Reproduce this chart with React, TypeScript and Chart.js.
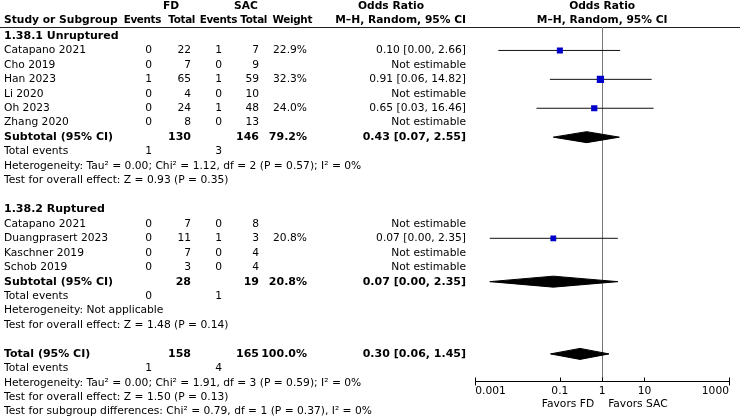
import React, { useEffect, useRef } from "react";
import { Chart, registerables } from "chart.js";
Chart.register(...registerables);

// ---- Data ----
const studies1 = ["Catapano 2021", "Cho 2019", "Han 2023", "Li 2020", "Oh 2023", "Zhang 2020"];
const fdEvents1 = [0, 0, 1, 0, 0, 0];
const fdTotal1 = [22, 7, 65, 4, 24, 8];
const sacEvents1 = [1, 0, 1, 0, 1, 0];
const sacTotal1 = [7, 9, 59, 10, 48, 13];
const weight1: (number | null)[] = [22.9, null, 32.3, null, 24.0, null];
const or1: (number | null)[] = [0.1, null, 0.91, null, 0.65, null];
const lo1: (number | null)[] = [0.0035, null, 0.058, null, 0.028, null];
const hi1: (number | null)[] = [2.66, null, 14.82, null, 16.46, null];

const studies2 = ["Catapano 2021", "Duangprasert 2023", "Kaschner 2019", "Schob 2019"];
const fdEvents2 = [0, 0, 0, 0];
const fdTotal2 = [7, 11, 7, 3];
const sacEvents2 = [0, 1, 0, 0];
const sacTotal2 = [8, 3, 4, 4];
const weight2: (number | null)[] = [null, 20.8, null, null];
const or2: (number | null)[] = [null, 0.07, null, null];
const lo2: (number | null)[] = [null, 0.0022, null, null];
const hi2: (number | null)[] = [null, 2.35, null, null];

const sub1 = { fdTotal: 130, sacTotal: 146, weight: 79.2, or: 0.43, lo: 0.07, hi: 2.55, fdEv: 1, sacEv: 3 };
const sub2 = { fdTotal: 28, sacTotal: 19, weight: 20.8, or: 0.07, lo: 0.0022, hi: 2.35, fdEv: 0, sacEv: 1 };
const total = { fdTotal: 158, sacTotal: 165, weight: 100.0, or: 0.3, lo: 0.06, hi: 1.45, fdEv: 1, sacEv: 4 };

const het1 = "Heterogeneity: Tau² = 0.00; Chi² = 1.12, df = 2 (P = 0.57); I² = 0%";
const eff1 = "Test for overall effect: Z = 0.93 (P = 0.35)";
const het2 = "Heterogeneity: Not applicable";
const eff2 = "Test for overall effect: Z = 1.48 (P = 0.14)";
const hetT = "Heterogeneity: Tau² = 0.00; Chi² = 1.91, df = 3 (P = 0.59); I² = 0%";
const effT = "Test for overall effect: Z = 1.50 (P = 0.13)";
const subDiff = "Test for subgroup differences: Chi² = 0.79, df = 1 (P = 0.37), I² = 0%";

const axisTicks = [0.001, 0.1, 1, 10, 1000];
const axisTickLabels = ["0.001", "0.1", "1", "10", "1000"];

// ---- Layout constants ----
const FONT = "DejaVu Sans";
const FS = 10.7;
const FS_BOLD = 11;
const FS_HEAD = 10.4;
const COL = { name: 4, ev1: 152, tot1: 191, ev2: 222, tot2: 259, w: 307, ort: 466 };

type Row = {
  label: string;
  bold?: boolean;
  ev1?: string; tot1?: string; ev2?: string; tot2?: string; w?: string; ort?: string;
  kind?: "study" | "diamond";
  or?: number | null; lo?: number | null; hi?: number | null; weight?: number | null;
};

function fmt2(v: number) { return v.toFixed(2); }
function orText(o: number | null, l: number | null, h: number | null) {
  if (o == null || l == null || h == null) return "Not estimable";
  return `${fmt2(o)} [${fmt2(l)}, ${fmt2(h)}]`;
}

function buildRows(): Row[] {
  const rows: Row[] = [];
  rows.push({ label: "1.38.1 Unruptured", bold: true });
  studies1.forEach((s, i) => rows.push({
    label: s, ev1: String(fdEvents1[i]), tot1: String(fdTotal1[i]), ev2: String(sacEvents1[i]), tot2: String(sacTotal1[i]),
    w: weight1[i] != null ? weight1[i]!.toFixed(1) + "%" : "", ort: orText(or1[i], lo1[i], hi1[i]),
    kind: "study", or: or1[i], lo: lo1[i], hi: hi1[i], weight: weight1[i],
  }));
  rows.push({ label: "Subtotal (95% CI)", bold: true, tot1: String(sub1.fdTotal), tot2: String(sub1.sacTotal), w: sub1.weight.toFixed(1) + "%", ort: orText(sub1.or, sub1.lo, sub1.hi), kind: "diamond", or: sub1.or, lo: sub1.lo, hi: sub1.hi });
  rows.push({ label: "Total events", ev1: String(sub1.fdEv), ev2: String(sub1.sacEv) });
  rows.push({ label: het1 });
  rows.push({ label: eff1 });
  rows.push({ label: "" });
  rows.push({ label: "1.38.2 Ruptured", bold: true });
  studies2.forEach((s, i) => rows.push({
    label: s, ev1: String(fdEvents2[i]), tot1: String(fdTotal2[i]), ev2: String(sacEvents2[i]), tot2: String(sacTotal2[i]),
    w: weight2[i] != null ? weight2[i]!.toFixed(1) + "%" : "", ort: orText(or2[i], lo2[i], hi2[i]),
    kind: "study", or: or2[i], lo: lo2[i], hi: hi2[i], weight: weight2[i],
  }));
  rows.push({ label: "Subtotal (95% CI)", bold: true, tot1: String(sub2.fdTotal), tot2: String(sub2.sacTotal), w: sub2.weight.toFixed(1) + "%", ort: orText(sub2.or, sub2.lo, sub2.hi), kind: "diamond", or: sub2.or, lo: sub2.lo, hi: sub2.hi });
  rows.push({ label: "Total events", ev1: String(sub2.fdEv), ev2: String(sub2.sacEv) });
  rows.push({ label: het2 });
  rows.push({ label: eff2 });
  rows.push({ label: "" });
  rows.push({ label: "Total (95% CI)", bold: true, tot1: String(total.fdTotal), tot2: String(total.sacTotal), w: total.weight.toFixed(1) + "%", ort: orText(total.or, total.lo, total.hi), kind: "diamond", or: total.or, lo: total.lo, hi: total.hi });
  rows.push({ label: "Total events", ev1: String(total.fdEv), ev2: String(total.sacEv) });
  rows.push({ label: hetT });
  rows.push({ label: effT });
  rows.push({ label: subDiff });
  return rows;
}

const ROW_H = 14.45;
const ROW0_Y = 36;
const TOP = 27;
const AXIS_Y = 381;
const X_LEFT = 475.3;
const X_RIGHT = 729;
const DIAMOND_H = 0.38;

export default function App() {
  const ref = useRef<HTMLCanvasElement | null>(null);
  useEffect(() => {
    if (!ref.current) return;
    const rows = buildRows();
    const datasets: any[] = [];
    const squares: any[] = [];
    const radii: number[] = [];
    rows.forEach((r, i) => {
      if (r.kind === "study" && r.or != null && r.lo != null && r.hi != null) {
        datasets.push({ data: [{ x: r.lo, y: i }, { x: r.hi, y: i }], showLine: true, borderColor: "#111", borderWidth: 1, pointRadius: 0, order: 2 });
        squares.push({ x: r.or, y: i });
        radii.push(Math.sqrt(r.weight || 0) * 0.9);
      }
      if (r.kind === "diamond" && r.or != null && r.lo != null && r.hi != null) {
        datasets.push({
          data: [{ x: r.lo, y: i }, { x: r.or, y: i - DIAMOND_H }, { x: r.hi, y: i }, { x: r.or, y: i + DIAMOND_H }, { x: r.lo, y: i }],
          showLine: true, borderColor: "#000", borderWidth: 1, backgroundColor: "#000", fill: "shape", pointRadius: 0, tension: 0, order: 1,
        });
      }
    });
    datasets.push({ data: squares, pointStyle: "rect", pointRadius: radii, backgroundColor: "#0000cc", borderColor: "#0000cc", borderWidth: 0, showLine: false, order: 0 });

    const yMin = (TOP - ROW0_Y) / ROW_H;
    const yMax = (AXIS_Y - ROW0_Y) / ROW_H;

    const textPlugin = {
      id: "forestText",
      beforeDatasetsDraw(chart: any) {
        const ctx = chart.ctx;
        const xs = chart.scales.x;
        const ca = chart.chartArea;
        ctx.save();
        ctx.strokeStyle = "#222";
        ctx.lineWidth = 1;
        ctx.beginPath();
        ctx.moveTo(0, ca.top + 0.5);
        ctx.lineTo(740, ca.top + 0.5);
        ctx.stroke();
        const x1 = Math.round(xs.getPixelForValue(1)) + 0.5;
        ctx.strokeStyle = "#777";
        ctx.beginPath();
        ctx.moveTo(x1, ca.top);
        ctx.lineTo(x1, ca.bottom);
        ctx.stroke();
        ctx.restore();
      },
      afterDraw(chart: any) {
        const ctx = chart.ctx;
        const xs = chart.scales.x;
        const ys = chart.scales.y;
        const ca = chart.chartArea;
        ctx.save();
        ctx.fillStyle = "#000";
        ctx.textBaseline = "middle";
        const txt = (s: string, x: number, y: number, align: CanvasTextAlign, bold = false, size?: number, spacing = 0) => {
          const fs = size ?? (bold ? FS_BOLD : FS);
          ctx.font = `${bold ? "bold " : ""}${fs}px "${FONT}"`;
          (ctx as any).letterSpacing = `${spacing}px`;
          ctx.textAlign = align;
          ctx.fillText(s, x, y);
          (ctx as any).letterSpacing = "0px";
        };
        const x1 = xs.getPixelForValue(1);
        txt("FD", 171, 6, "center", true, FS_HEAD + 0.3);
        txt("SAC", 246, 6, "center", true, FS_HEAD + 0.3);
        txt("Odds Ratio", 391, 6, "center", true, FS_HEAD + 0.3);
        txt("Odds Ratio", x1, 6, "center", true, FS_HEAD + 0.3);
        txt("Study or Subgroup", COL.name, 20, "left", true, FS_HEAD + 0.3);
        txt("Events", 161, 20, "right", true, FS_HEAD, -0.35);
        txt("Total", 195, 20, "right", true, FS_HEAD, -0.35);
        txt("Events", 237, 20, "right", true, FS_HEAD, -0.35);
        txt("Total", 267, 20, "right", true, FS_HEAD, -0.35);
        txt("Weight", 312, 20, "right", true, FS_HEAD, -0.35);
        txt("M–H, Random, 95% CI", COL.ort, 20, "right", true, FS_HEAD + 0.3);
        txt("M–H, Random, 95% CI", x1, 20, "center", true, FS_HEAD + 0.3);
        rows.forEach((r, i) => {
          const y = ys.getPixelForValue(i);
          const b = !!r.bold;
          if (r.label) txt(r.label, COL.name, y, "left", b);
          if (r.ev1) txt(r.ev1, COL.ev1, y, "right", b);
          if (r.tot1) txt(r.tot1, COL.tot1, y, "right", b);
          if (r.ev2) txt(r.ev2, COL.ev2, y, "right", b);
          if (r.tot2) txt(r.tot2, COL.tot2, y, "right", b);
          if (r.w) txt(r.w, COL.w, y, "right", b);
          if (r.ort) txt(r.ort, COL.ort, y, "right", b);
        });
        const ay = Math.round(ca.bottom) + 0.5;
        ctx.strokeStyle = "#000";
        ctx.lineWidth = 1;
        ctx.beginPath();
        ctx.moveTo(xs.getPixelForValue(axisTicks[0]), ay);
        ctx.lineTo(xs.getPixelForValue(axisTicks[axisTicks.length - 1]), ay);
        axisTicks.forEach((t, k) => {
          const tx = Math.round(xs.getPixelForValue(t)) + 0.5;
          const end = k === 0 || k === axisTicks.length - 1;
          ctx.moveTo(tx, ay - 4);
          ctx.lineTo(tx, end ? ay + 4 : ay);
        });
        ctx.stroke();
        axisTicks.forEach((t, k) => {
          const tx = xs.getPixelForValue(t);
          const align: CanvasTextAlign = k === 0 ? "left" : k === axisTicks.length - 1 ? "right" : "center";
          txt(axisTickLabels[k], tx, ay + 10, align);
        });
        txt("Favors FD", x1 - 8, ay + 23, "right");
        txt("Favors SAC", x1 + 6, ay + 23, "left");
        ctx.restore();
      },
    };

    const chart = new Chart(ref.current, {
      type: "scatter",
      data: { datasets },
      options: {
        responsive: false,
        animation: false,
        layout: { padding: { left: X_LEFT, right: 740 - X_RIGHT, top: TOP, bottom: 420 - AXIS_Y } },
        plugins: { legend: { display: false }, tooltip: { enabled: false } },
        scales: {
          x: { type: "logarithmic", min: 0.001, max: 1000, display: false },
          y: { type: "linear", min: yMin, max: yMax, reverse: true, display: false },
        },
      },
      plugins: [textPlugin],
    });
    return () => chart.destroy();
  }, []);
  return (
    <div style={{ position: "absolute", left: 0, top: 0, width: 740, height: 420, background: "#fff" }}>
      <canvas ref={ref} width={740} height={420} style={{ width: 740, height: 420 }} />
    </div>
  );
}
